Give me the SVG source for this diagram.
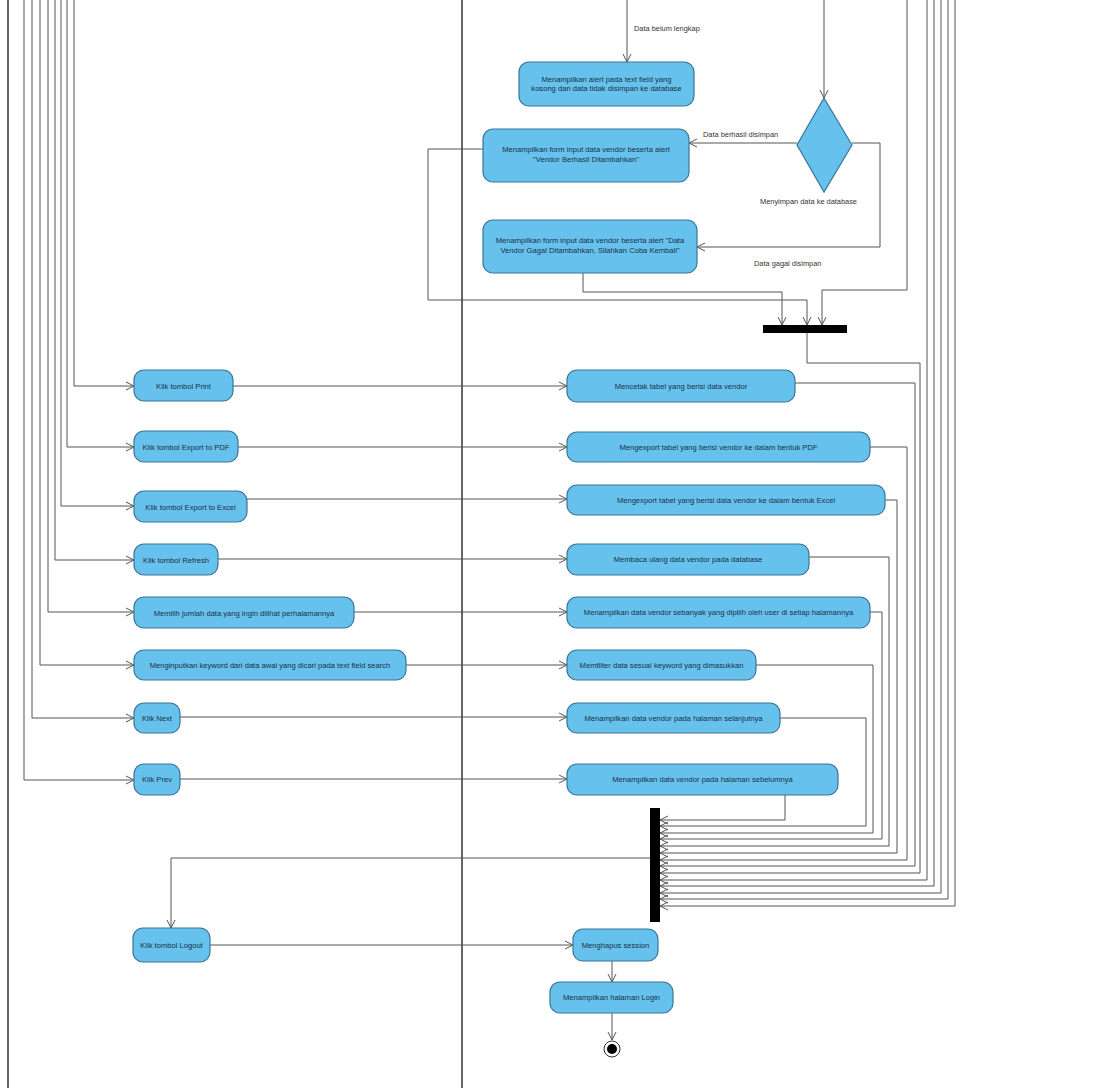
<svg xmlns="http://www.w3.org/2000/svg" width="1093" height="1088" viewBox="0 0 1093 1088">
<style>
.n{fill:#66C2EC;stroke:#3A7598;stroke-width:1.2}
.t{font-family:"Liberation Sans",Arial,sans-serif;font-size:7.6px;fill:#1B2E48;text-anchor:middle}
.l{font-family:"Liberation Sans",Arial,sans-serif;font-size:7.4px;fill:#333}
.c{fill:none;stroke:#555;stroke-width:1}
.lane{stroke:#333;stroke-width:1.5}
</style>
<defs>
<marker id="a" markerWidth="10" markerHeight="10" refX="9" refY="5" orient="auto" markerUnits="userSpaceOnUse">
<path d="M1,1 L9,5 L1,9" fill="none" stroke="#555" stroke-width="1"/>
</marker>
</defs>
<rect width="1093" height="1088" fill="#fff"/>
<g id="lanes">
<line class="lane" x1="8" y1="0" x2="8" y2="1088"/>
<line class="lane" x1="462" y1="0" x2="462" y2="1088"/>
</g>
<g id="connectors">
<polyline class="c" points="74,0 74,386 134,386" marker-end="url(#a)"/>
<polyline class="c" points="67,0 67,447 134,447" marker-end="url(#a)"/>
<polyline class="c" points="61,0 61,506 134,506" marker-end="url(#a)"/>
<polyline class="c" points="55,0 55,560 134,560" marker-end="url(#a)"/>
<polyline class="c" points="48,0 48,612 134,612" marker-end="url(#a)"/>
<polyline class="c" points="40,0 40,665 134,665" marker-end="url(#a)"/>
<polyline class="c" points="32,0 32,718 134,718" marker-end="url(#a)"/>
<polyline class="c" points="24,0 24,780 134,780" marker-end="url(#a)"/>
<line class="c" x1="233" y1="386" x2="567" y2="386" marker-end="url(#a)"/>
<line class="c" x1="238" y1="447" x2="567" y2="447" marker-end="url(#a)"/>
<line class="c" x1="247" y1="499" x2="567" y2="499" marker-end="url(#a)"/>
<line class="c" x1="218" y1="559" x2="567" y2="559" marker-end="url(#a)"/>
<line class="c" x1="354" y1="612" x2="567" y2="612" marker-end="url(#a)"/>
<line class="c" x1="406" y1="665" x2="567" y2="665" marker-end="url(#a)"/>
<line class="c" x1="180" y1="717" x2="567" y2="717" marker-end="url(#a)"/>
<line class="c" x1="180" y1="779" x2="567" y2="779" marker-end="url(#a)"/>
<line class="c" x1="627" y1="0" x2="627" y2="62" marker-end="url(#a)"/>
<line class="c" x1="824" y1="0" x2="824" y2="98" marker-end="url(#a)"/>
<line class="c" x1="797" y1="143" x2="689" y2="143" marker-end="url(#a)"/>
<polyline class="c" points="852,143 880,143 880,247 697,247" marker-end="url(#a)"/>
<polyline class="c" points="483,149 428,149 428,300 807,300 807,325" marker-end="url(#a)"/>
<polyline class="c" points="583,273 583,292 782,292 782,325" marker-end="url(#a)"/>
<polyline class="c" points="907,0 907,290 822,290 822,325" marker-end="url(#a)"/>
<polyline class="c" points="785,795 785,820 660,820" marker-end="url(#a)"/>
<polyline class="c" points="780,718 866,718 866,826 660,826" marker-end="url(#a)"/>
<polyline class="c" points="756,665 873,665 873,833 660,833" marker-end="url(#a)"/>
<polyline class="c" points="870,612 882,612 882,839 660,839" marker-end="url(#a)"/>
<polyline class="c" points="809,557 889,557 889,846 660,846" marker-end="url(#a)"/>
<polyline class="c" points="885,500 897,500 897,853 660,853" marker-end="url(#a)"/>
<polyline class="c" points="870,447 907,447 907,860 660,860" marker-end="url(#a)"/>
<polyline class="c" points="795,383 915,383 915,866 660,866" marker-end="url(#a)"/>
<polyline class="c" points="807,333 807,363 920,363 920,873 660,873" marker-end="url(#a)"/>
<polyline class="c" points="927,0 927,880 660,880" marker-end="url(#a)"/>
<polyline class="c" points="934,0 934,886 660,886" marker-end="url(#a)"/>
<polyline class="c" points="941,0 941,893 660,893" marker-end="url(#a)"/>
<polyline class="c" points="948,0 948,899 660,899" marker-end="url(#a)"/>
<polyline class="c" points="955,0 955,906 660,906" marker-end="url(#a)"/>
<polyline class="c" points="650,858 171,858 171,928" marker-end="url(#a)"/>
<line class="c" x1="210" y1="945" x2="573" y2="945" marker-end="url(#a)"/>
<line class="c" x1="612" y1="961" x2="612" y2="982" marker-end="url(#a)"/>
<line class="c" x1="612" y1="1013" x2="612" y2="1040" marker-end="url(#a)"/>
<text class="l" x="634" y="31">Data belum lengkap</text>
<text class="l" x="703" y="137">Data berhasil disimpan</text>
<text class="l" x="760" y="204">Menyimpan data ke database</text>
<text class="l" x="754" y="266">Data gagal disimpan</text>
</g>
<g id="n_alert"><rect class="n" x="519" y="62" width="175" height="44" rx="10"/><text class="t" x="606.5" y="82">Menampilkan alert pada text field yang</text><text class="t" x="606.5" y="91">kosong dan data tidak disimpan ke database</text></g>
<g id="n_berhasil"><rect class="n" x="483" y="129" width="206" height="53" rx="10"/><text class="t" x="586" y="152">Menampilkan form input data vendor beserta alert</text><text class="t" x="586" y="162">"Vendor Berhasil Ditambahkan"</text></g>
<g id="n_decision"><polygon class="n" points="824,98 852,145 824,192 797,145"/></g>
<g id="n_gagal"><rect class="n" x="483" y="220" width="214" height="53" rx="10"/><text class="t" x="590" y="243">Menampilkan form input data vendor beserta alert "Data</text><text class="t" x="590" y="253">Vendor Gagal Ditambahkan, Silahkan Coba Kembali"</text></g>
<g id="bar1"><rect x="763" y="325" width="84" height="8" fill="#000"/></g>
<g id="n_print"><rect class="n" x="134" y="370" width="99" height="31" rx="10"/><text class="t" x="183.5" y="388.5">Klik tombol Print</text></g>
<g id="n_pdf"><rect class="n" x="134" y="431" width="104" height="31" rx="10"/><text class="t" x="186" y="449.5">Klik tombol Export to PDF</text></g>
<g id="n_excel"><rect class="n" x="134" y="491" width="113" height="31" rx="10"/><text class="t" x="190.5" y="509.5">Klik tombol Export to Excel</text></g>
<g id="n_refresh"><rect class="n" x="134" y="544" width="84" height="31" rx="10"/><text class="t" x="176" y="562.5">Klik tombol Refresh</text></g>
<g id="n_memilih"><rect class="n" x="134" y="597" width="220" height="31" rx="10"/><text class="t" x="244" y="615.5">Memilih jumlah data yang ingin dilihat perhalamannya</text></g>
<g id="n_keyword"><rect class="n" x="134" y="650" width="272" height="30" rx="10"/><text class="t" x="270" y="667.5">Menginputkan keyword dari data awal yang dicari pada text field search</text></g>
<g id="n_next"><rect class="n" x="134" y="703" width="46" height="30" rx="10"/><text class="t" x="157" y="720.5">Klik Next</text></g>
<g id="n_prev"><rect class="n" x="134" y="764" width="46" height="31" rx="10"/><text class="t" x="157" y="782">Klik Prev</text></g>
<g id="n_mencetak"><rect class="n" x="567" y="370" width="228" height="32" rx="10"/><text class="t" x="681" y="388.5">Mencetak tabel yang berisi data vendor</text></g>
<g id="n_expdf"><rect class="n" x="567" y="432" width="303" height="30" rx="10"/><text class="t" x="718.5" y="449.5">Mengexport tabel yang berisi vendor ke dalam bentuk PDF</text></g>
<g id="n_exexcel"><rect class="n" x="567" y="485" width="318" height="30" rx="10"/><text class="t" x="726" y="502.5">Mengexport tabel yang berisi data vendor ke dalam bentuk Excel</text></g>
<g id="n_membaca"><rect class="n" x="567" y="544" width="242" height="31" rx="10"/><text class="t" x="688" y="562">Membaca ulang data vendor pada database</text></g>
<g id="n_sebanyak"><rect class="n" x="567" y="597" width="303" height="31" rx="10"/><text class="t" x="718.5" y="615">Menampilkan data vendor sebanyak yang dipilih oleh user di setiap halamannya</text></g>
<g id="n_filter"><rect class="n" x="567" y="650" width="189" height="30" rx="10"/><text class="t" x="661.5" y="667.5">Memfilter data sesuai keyword yang dimasukkan</text></g>
<g id="n_selanjutnya"><rect class="n" x="567" y="703" width="213" height="30" rx="10"/><text class="t" x="673.5" y="720.5">Menampilkan data vendor pada halaman selanjutnya</text></g>
<g id="n_sebelumnya"><rect class="n" x="567" y="764" width="271" height="31" rx="10"/><text class="t" x="702.5" y="782">Menampilkan data vendor pada halaman sebelumnya</text></g>
<g id="bar2"><rect x="650" y="808" width="10" height="114" fill="#000"/></g>
<g id="n_logout"><rect class="n" x="133" y="928" width="77" height="34" rx="10"/><text class="t" x="171.5" y="947.5">Klik tombol Logout</text></g>
<g id="n_session"><rect class="n" x="573" y="929" width="85" height="32" rx="10"/><text class="t" x="615.5" y="947.5">Menghapus session</text></g>
<g id="n_login"><rect class="n" x="550" y="982" width="123" height="31" rx="10"/><text class="t" x="611.5" y="1000">Menampilkan halaman Login</text></g>
<g id="final"><circle cx="612" cy="1049" r="8" fill="#fff" stroke="#333" stroke-width="1"/><circle cx="612" cy="1049" r="5" fill="#000"/></g>
</svg>
